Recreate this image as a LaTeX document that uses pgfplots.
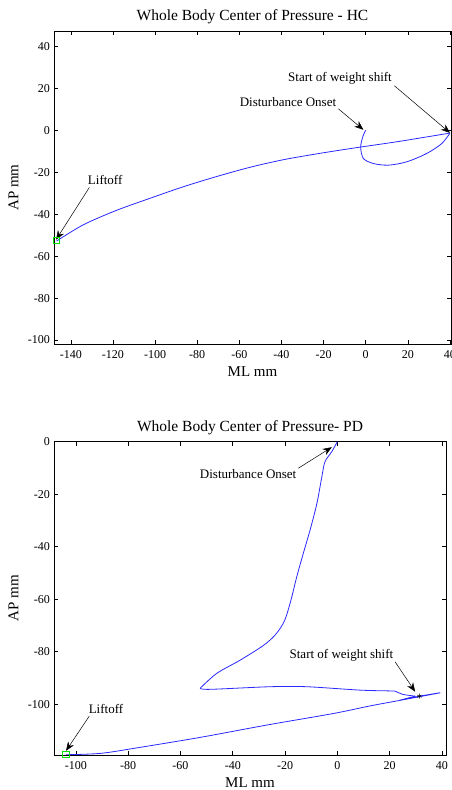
\documentclass[border=0pt]{standalone}
\usepackage{fontspec}
\setmainfont{Liberation Serif}
\usepackage{pgfplots}
\pgfplotsset{compat=1.18}
\usetikzlibrary{arrows.meta}

\definecolor{copblue}{RGB}{40,40,255}
\definecolor{liftgreen}{RGB}{0,230,0}

\pgfplotsset{
  copstyle/.style={
    scale only axis,
    anchor=south west,
    axis line style={black, line width=0.7pt},
    tick align=inside,
    major tick length=4pt,
    tick style={black, line width=0.6pt},
    /pgf/number format/assume math mode=true,
    ticklabel style={font=\fontsize{12}{14}\selectfont},
    xticklabel style={anchor=base, yshift=-14.3pt},
    yticklabel style={anchor=east, inner sep=0pt, xshift=-4pt},
    % default title style already shifts up by 6pt
    title style={font=\fontsize{15.5}{18}\selectfont, anchor=base, yshift=-6pt},
    label style={font=\fontsize{15}{18}\selectfont},
    xlabel style={at={(axis description cs:0.5,0)}, anchor=base, yshift=-32.7pt},
    xlabel={ML mm},
    ylabel={AP mm},
  },
  cop/.style={copblue, line width=0.8pt, smooth, tension=0.5},
}
\tikzset{
  note/.style={font=\fontsize{13}{15}\selectfont, inner sep=0pt},
  pointer/.style={-{Stealth[length=9pt,width=7pt]}, black, line width=0.5pt},
}

\begin{document}
\begin{tikzpicture}
\useasboundingbox (0,0) rectangle (452pt,790pt);

% ---- HC ----
\begin{axis}[
  copstyle,
  at={(54pt,446pt)},
  width=397pt, height=313pt,
  xmin=-148, xmax=40.5,
  ymin=-101.9, ymax=47.4,
  xtick={-140,-120,...,40},
  ytick={-100,-80,...,40},
  title={Whole Body Center of Pressure - HC},
  title style={at={(axis description cs:0.5,1.035)}},
  ylabel style={at={(axis description cs:-0.0899,0.5)}, anchor=base},
]
% loop after disturbance onset
\addplot[cop] coordinates {
  (0,0) (-1.2,-2.5) (-2.4,-7.9) (-1.1,-13.4) (3.6,-15.8) (10.7,-16.6)
  (19.5,-15) (29,-11) (36.1,-6.3) (40,-1.3)
};
% weight shift to liftoff
\addplot[cop] coordinates {
  (40,-1.3) (16.3,-5.2) (2.1,-7.3) (-7.4,-8.7) (-23.2,-11.2) (-39.1,-14.0)
  (-54.9,-17.6) (-70.7,-22.0) (-86.6,-26.9) (-102.4,-32.4) (-118.2,-38.1)
  (-134,-45) (-146.8,-52.8)
};
\addplot[liftgreen, only marks, mark=square, mark size=3.3pt, line width=0.6pt]
  coordinates {(-147,-52.5)};

\node[note] at (axis cs:-12.2,24.8) {Start of weight shift};
\draw[pointer] (axis cs:13.6,21.3) -- (axis cs:40,-1.2);
\node[note] at (axis cs:-36.9,13.4) {Disturbance Onset};
\draw[pointer] (axis cs:-13,10.3) -- (axis cs:-1.1,0.3);
\node[note] at (axis cs:-123.7,-23.7) {Liftoff};
\draw[pointer] (axis cs:-131.2,-27.2) -- (axis cs:-147,-52.1);
\end{axis}

% ---- PD ----
\begin{axis}[
  copstyle,
  at={(54pt,35pt)},
  width=392pt, height=313.3pt,
  xmin=-108.4, xmax=41.6,
  ymin=-119.3, ymax=0,
  xtick={-100,-80,...,40},
  ytick={-100,-80,...,0},
  title={Whole Body Center of Pressure- PD},
  title style={at={(axis description cs:0.5,1.032)}},
  ylabel style={at={(axis description cs:-0.0911,0.5)}, anchor=base},
  xlabel style={yshift=-0.3pt},
]
\addplot[cop] coordinates {
  (0,0) (-2.1,-3.8) (-4.7,-7.6) (-5.9,-13.3) (-7.8,-23.5) (-10.4,-33.6)
  (-13,-42.5) (-15.5,-51.4) (-17.8,-60.6) (-20.2,-68.2) (-23.6,-73.4)
  (-28.3,-77.6) (-37.2,-83.2) (-46.1,-88.2) (-52.5,-93.9)
};
\addplot[cop] coordinates {
  (-52.5,-93.9) (-48.7,-94.3) (-25.7,-93.3) (-11.7,-93.3) (8.7,-94.6)
  (20.2,-94.9) (22.1,-95.0) (25,-96.2) (29.8,-96.9)
};
\addplot[copblue, line width=0.9pt] coordinates {
  (29.8,-96.9) (23.4,-98.6) (31.4,-96.9) (39.4,-95.6) (23.4,-98.6)
};
\addplot[cop] coordinates {
  (23.4,-98.6) (12.6,-100.6) (-1.5,-103.5) (-27,-107.9) (-52.5,-112.6)
  (-78,-116.8) (-90.8,-118.7) (-103.8,-119.2)
};
\addplot[liftgreen, only marks, mark=square, mark size=3.3pt, line width=0.6pt]
  coordinates {(-103.8,-119.0)};
\addplot[black, only marks, mark=asterisk, mark size=2.5pt, line width=0.5pt]
  coordinates {(31.4,-96.9)};

\node[note] at (axis cs:-34.1,-12.3) {Disturbance Onset};
\draw[pointer] (axis cs:-14.9,-10.1) -- (axis cs:-2.1,-2.1);
\node[note] at (axis cs:1.6,-81.3) {Start of weight shift};
\draw[pointer] (axis cs:22.1,-83.8) -- (axis cs:29.8,-95.2);
\node[note] at (axis cs:-88.5,-101.6) {Liftoff};
\draw[pointer] (axis cs:-94.9,-104.5) -- (axis cs:-103.8,-117.7);
\end{axis}
\end{tikzpicture}
\end{document}
